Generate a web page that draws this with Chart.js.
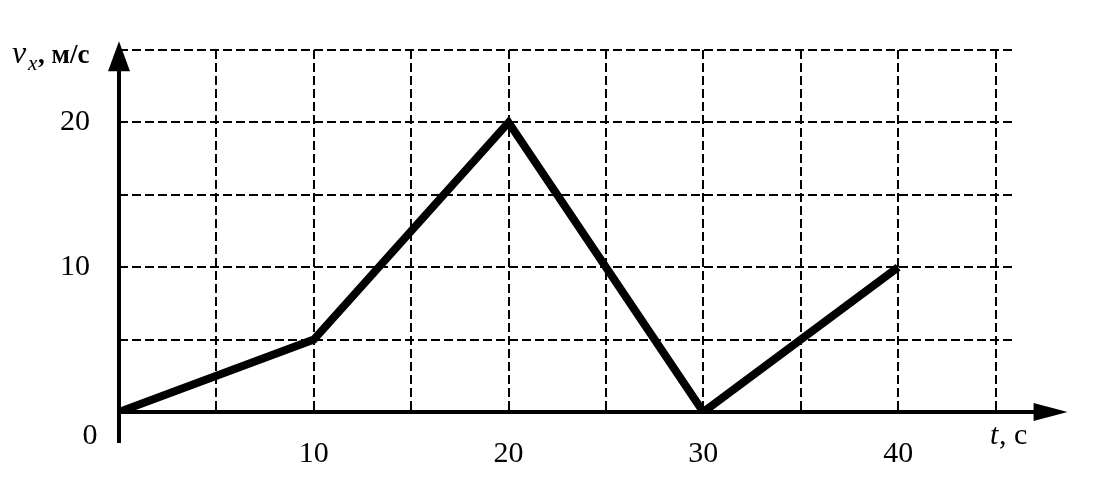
<!DOCTYPE html>
<html>
<head>
<meta charset="utf-8">
<script src="https://cdn.jsdelivr.net/npm/chart.js@4"></script>
<style>
  body { margin: 0; background: #fff; }
  #wrap { width: 1114px; height: 492px; }
</style>
</head>
<body>
<div id="wrap"><canvas id="c"></canvas></div>
<script>
// данные графика v_x(t)
var times = [0, 10, 20, 30, 40];
var speeds = [0, 5, 20, 0, 10];
// сетка и подписи
var xGrid = [5, 10, 15, 20, 25, 30, 35, 40, 45];
var yGrid = [5, 10, 15, 20, 25];
var xLabels = [10, 20, 30, 40];
var yLabels = [10, 20];

var points = [];
for (var i = 0; i < times.length; i++) {
    points.push({ x: times[i], y: speeds[i] });
}

var serif = '"Liberation Serif", "DejaVu Serif", serif';

// оси со стрелками и подписи осей
var axesPlugin = {
    id: 'axes',
    afterDraw: function (chart) {
        var ctx = chart.ctx;
        var xs = chart.scales.x, ys = chart.scales.y;
        var x0 = xs.getPixelForValue(0), y0 = ys.getPixelForValue(0);
        var xTip = xs.getPixelForValue(48.7), yTip = ys.getPixelForValue(25.6);
        ctx.save();
        ctx.strokeStyle = '#000';
        ctx.fillStyle = '#000';
        ctx.lineWidth = 4;
        ctx.beginPath();
        ctx.moveTo(x0 - 2, y0);
        ctx.lineTo(xTip - 20, y0);
        ctx.moveTo(x0, y0 + 31);
        ctx.lineTo(x0, yTip + 20);
        ctx.stroke();
        // стрелки
        ctx.beginPath();
        ctx.moveTo(xTip, y0);
        ctx.lineTo(xTip - 34, y0 - 9);
        ctx.lineTo(xTip - 34, y0 + 9);
        ctx.closePath();
        ctx.fill();
        ctx.beginPath();
        ctx.moveTo(x0, yTip);
        ctx.lineTo(x0 - 11, yTip + 30);
        ctx.lineTo(x0 + 11, yTip + 30);
        ctx.closePath();
        ctx.fill();

        ctx.textBaseline = 'alphabetic';
        // 0 в начале координат
        ctx.font = '30px ' + serif;
        ctx.textAlign = 'center';
        ctx.fillText('0', x0 - 29, y0 + 32);
        // t, с
        ctx.textAlign = 'left';
        ctx.font = 'italic 30px ' + serif;
        ctx.fillText('t', 990, y0 + 32);
        ctx.font = '30px ' + serif;
        ctx.fillText(', с', 999, y0 + 32);
        // v_x, м/с
        ctx.font = 'italic 32px ' + serif;
        ctx.fillText('v', 12, 63);
        ctx.font = 'italic 21px ' + serif;
        ctx.fillText('x', 28, 70);
        ctx.font = 'bold 27px ' + serif;
        ctx.fillText(', м/с', 38, 63);
        ctx.restore();
    }
};

new Chart(document.getElementById('c'), {
    type: 'line',
    data: {
        datasets: [{
            data: points,
            borderColor: '#000',
            borderWidth: 8,
            pointRadius: 0,
            tension: 0,
            borderJoinStyle: 'miter',
            borderCapStyle: 'butt'
        }]
    },
    options: {
        responsive: true,
        maintainAspectRatio: false,
        animation: false,
        layout: { padding: { top: 50, right: 99, left: 0, bottom: 0 } },
        plugins: { legend: { display: false }, tooltip: { enabled: false } },
        scales: {
            x: {
                type: 'linear',
                min: 0,
                max: 46,
                afterBuildTicks: function (scale) {
                    scale.ticks = xGrid.map(function (v) { return { value: v }; });
                },
                afterFit: function (scale) { scale.height = 80; },
                grid: { color: '#000', lineWidth: 2, drawTicks: false },
                border: { display: false, dash: [9, 4] },
                ticks: {
                    color: '#000',
                    padding: 24,
                    maxRotation: 0,
                    autoSkip: false,
                    font: { family: serif, size: 30 },
                    callback: function (v) { return xLabels.indexOf(v) >= 0 ? String(v) : ''; }
                }
            },
            y: {
                type: 'linear',
                min: 0,
                max: 25,
                afterBuildTicks: function (scale) {
                    scale.ticks = yGrid.map(function (v) { return { value: v }; });
                },
                afterFit: function (scale) { scale.width = 119; },
                grid: { color: '#000', lineWidth: 2, drawTicks: false },
                border: { display: false, dash: [9, 4] },
                ticks: {
                    color: '#000',
                    padding: 29,
                    autoSkip: false,
                    font: { family: serif, size: 30 },
                    callback: function (v) { return yLabels.indexOf(v) >= 0 ? String(v) : ''; }
                }
            }
        }
    },
    plugins: [axesPlugin]
});
</script>
</body>
</html>
